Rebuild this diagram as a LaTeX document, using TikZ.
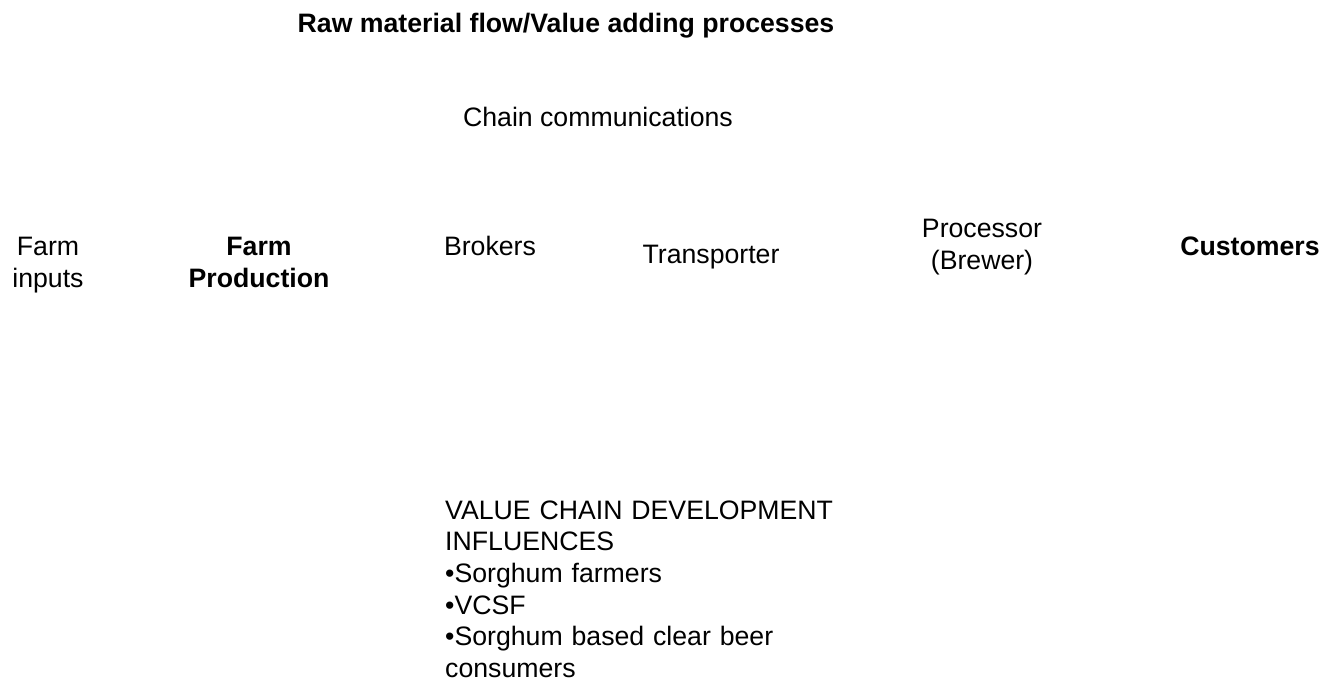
\documentclass[tikz,border=0pt]{standalone}
\usepackage{fontspec}
\setmainfont{Liberation Sans}
\begin{document}
\begin{tikzpicture}[x=1pt,y=-1pt,
  lbl/.style={inner sep=0pt, font=\fontsize{26.67}{32}\selectfont},
  stack/.style={lbl, text width=220pt, align=center, anchor=base},
  block/.style={inner sep=0pt, font=\fontsize{26.67}{31.7}\selectfont, text width=440pt, align=left, anchor=base west}]
\useasboundingbox (0,0) rectangle (1327,683);
\node[lbl, anchor=base, font=\fontsize{26.67}{32}\selectfont\bfseries] (title) at (566,32) {Raw material flow/Value adding processes};
\node[lbl, anchor=base] (comm) at (598,126) {Chain communications};
\node[stack] (inputs) at (48,255) {Farm\\inputs};
\node[stack, font=\fontsize{26.67}{32}\selectfont\bfseries] (farm) at (259,255) {Farm\\Production};
\node[lbl, anchor=base] (brokers) at (490,255) {Brokers};
\node[lbl, anchor=base] (trans) at (711,263) {Transporter};
\node[stack] (proc) at (982,237) {Processor\\(Brewer)};
\node[lbl, anchor=base, font=\fontsize{26.67}{32}\selectfont\bfseries] (cust) at (1250,255) {Customers};
\node[block] (infl) at (445,519) {VALUE CHAIN DEVELOPMENT\\INFLUENCES\\•Sorghum farmers\\•VCSF\\•Sorghum based clear beer\\consumers};
\end{tikzpicture}
\end{document}
